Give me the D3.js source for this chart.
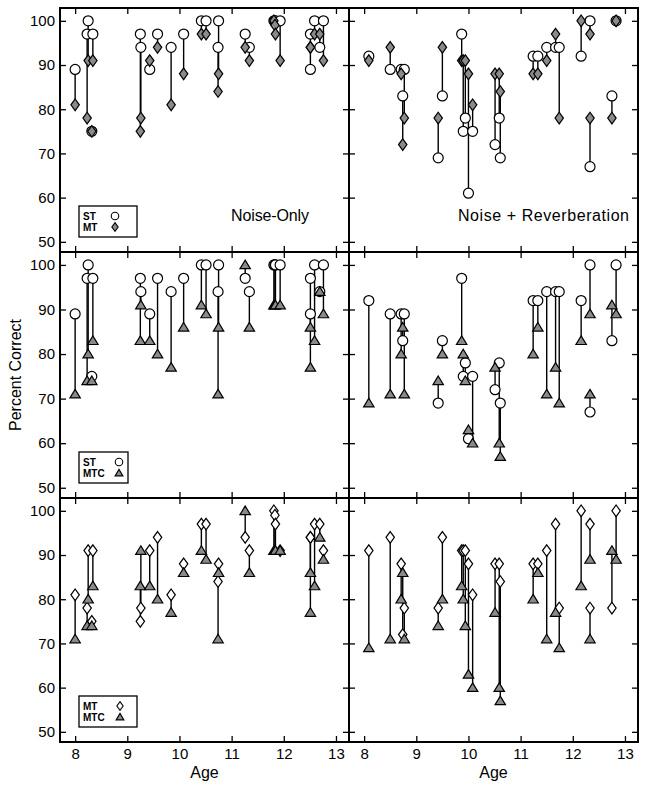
<!DOCTYPE html>
<html><head><meta charset="utf-8">
<script src="https://cdn.jsdelivr.net/npm/d3@7"></script>
<style>
body{margin:0;background:#fff}
svg{display:block}
text{font-family:"Liberation Sans",Arial,Helvetica,sans-serif;fill:#000}
</style>
</head><body><svg id="c" width="649" height="789"></svg>
<script>
const ageTicks = [8, 9, 10, 11, 12, 13];
const pctTicks = [50, 60, 70, 80, 90, 100];
const conditions = ["Noise-Only", "Noise + Reverberation"];

// Noise-Only subjects
const ageNO = [8.00, 8.23, 8.25, 8.32, 8.34, 9.25, 9.26, 9.43, 9.58, 9.84, 10.08, 10.42, 10.51, 10.74, 10.75, 11.26, 11.34, 11.81, 11.83, 11.84, 11.93, 12.51, 12.51, 12.59, 12.69, 12.76];
const stNO  = [89, 97, 100, 75, 97, 97, 94, 89, 97, 94, 97, 100, 100, 94, 100, 97, 94, 100, 100, 100, 100, 97, 89, 100, 94, 100];
const mtNO  = [81, 78, 91, 75, 91, 75, 78, 91, 94, 81, 88, 97, 97, 84, 88, 94, 91, 100, 99, 97, 91, 94, 94, 97, 97, 91];
const mtcNO = [71, 74, 80, 74, 83, 83, 91, 83, 80, 77, 86, 91, 89, 71, 86, 100, 86, 91, 91, 91, 91, 86, 77, 83, 94, 89];

// Noise + Reverberation subjects
const ageNR = [8.09, 8.50, 8.71, 8.74, 8.77, 9.42, 9.50, 9.87, 9.90, 9.94, 10.00, 10.08, 10.51, 10.59, 10.61, 11.24, 11.33, 11.50, 11.67, 11.74, 12.16, 12.33, 12.33, 12.75, 12.83];
const stNR  = [92, 89, 89, 83, 89, 69, 83, 97, 75, 78, 61, 75, 72, 78, 69, 92, 92, 94, 94, 94, 92, 100, 67, 83, 100];
const mtNR  = [91, 94, 88, 72, 78, 78, 94, 91, 91, 91, 88, 81, 88, 88, 84, 88, 88, 91, 97, 78, 100, 97, 78, 78, 100];
const mtcNR = [69, 71, 80, 86, 71, 74, 80, 83, 80, 74, 63, 60, 77, 60, 57, 80, 86, 71, 77, 69, 83, 89, 71, 91, 89];

const rowPairs = [["ST", "MT"], ["ST", "MTC"], ["MT", "MTC"]];

const dataSets = [
  {age: ageNO, ST: stNO, MT: mtNO, MTC: mtcNO},
  {age: ageNR, ST: stNR, MT: mtNR, MTC: mtcNR}
];

const svg = d3.select("#c");
const cols = [{x0: 60, x1: 349}, {x0: 349, x1: 638}];
const rows = [{y0: 8, y1: 252}, {y0: 252, y1: 498}, {y0: 498, y1: 742}];

const GRAY = "#8a8a8a";
function markerPath(kind, s) {
  const p = d3.path();
  if (kind === "ST") {
    p.arc(0, 0, 5 * s, 0, 2 * Math.PI);
  } else if (kind === "MT") {
    p.moveTo(0, -5.8 * s); p.lineTo(4.2 * s, 0); p.lineTo(0, 5.8 * s); p.lineTo(-4.2 * s, 0); p.closePath();
  } else {
    p.moveTo(0, -4.8 * s); p.lineTo(5.2 * s, 3.8 * s); p.lineTo(-5.2 * s, 3.8 * s); p.closePath();
  }
  return p.toString();
}
function markerFill(kind, row) {
  if (kind === "ST") return "#fff";
  if (kind === "MT") return row === 2 ? "#fff" : GRAY;
  return GRAY;
}

rows.forEach((r, ri) => {
  cols.forEach((c, ci) => {
    const x = d3.scaleLinear().domain([7.71, 13.25]).range([c.x0, c.x1]);
    const y = d3.scaleLinear().domain([47.7, 102.9]).range([r.y1, r.y0]);
    const g = svg.append("g");
    const ds = dataSets[ci];
    const [a, b] = rowPairs[ri];

    const fs = "15px";
    const bot = g.append("g").attr("transform", `translate(0,${r.y1})`)
      .call(d3.axisBottom(x).tickValues(ageTicks).tickSize(-6).tickPadding(6).tickFormat(ri === 2 ? d3.format("d") : ""));
    const top = g.append("g").attr("transform", `translate(0,${r.y0})`)
      .call(d3.axisTop(x).tickValues(ageTicks).tickSize(-6).tickFormat(""));
    const lef = g.append("g").attr("transform", `translate(${c.x0},0)`)
      .call(d3.axisLeft(y).tickValues(pctTicks).tickSize(-6).tickPadding(5).tickFormat(ci === 0 ? d3.format("d") : ""));
    const rig = g.append("g").attr("transform", `translate(${c.x1},0)`)
      .call(d3.axisRight(y).tickValues(pctTicks).tickSize(-6).tickFormat(""));
    [bot, top, lef, rig].forEach(ax => {
      ax.select(".domain").remove();
      ax.selectAll("line").attr("stroke", "#000").attr("stroke-width", 1.3);
      ax.selectAll("text").style("font-size", fs).attr("fill", "#000")
        .style("font-family", '"Liberation Sans",Arial,sans-serif');
    });

    g.append("g").selectAll("line").data(ds.age).join("line")
      .attr("x1", d => x(d)).attr("x2", d => x(d))
      .attr("y1", (d, i) => y(ds[a][i])).attr("y2", (d, i) => y(ds[b][i]))
      .attr("stroke", "#000").attr("stroke-width", 1.4);

    [a, b].forEach(kind => {
      g.append("g").selectAll("path").data(ds.age).join("path")
        .attr("transform", (d, i) => `translate(${x(d)},${y(ds[kind][i])})`)
        .attr("d", markerPath(kind, 1))
        .attr("fill", markerFill(kind, ri))
        .attr("stroke", "#000").attr("stroke-width", 1.2);
    });

    g.append("rect").attr("x", c.x0).attr("y", r.y0)
      .attr("width", c.x1 - c.x0).attr("height", r.y1 - r.y0)
      .attr("fill", "none").attr("stroke", "#000").attr("stroke-width", 2);
  });
});

const legends = [
  {row: 0, w: 58, items: ["ST", "MT"], sx: 36},
  {row: 1, w: 49, items: ["ST", "MTC"], sx: 40},
  {row: 2, w: 58, items: ["MT", "MTC"], sx: 41}
];
legends.forEach(L => {
  const r = rows[L.row];
  const bx = 79, by = r.y1 - 46, bh = 31;
  const lg = svg.append("g");
  lg.append("rect").attr("x", bx).attr("y", by).attr("width", L.w).attr("height", bh)
    .attr("fill", "#fff").attr("stroke", "#000").attr("stroke-width", 1.3);
  L.items.forEach((k, i) => {
    const cy = by + 10 + i * 11;
    lg.append("text").attr("x", bx + 4).attr("y", cy + 4)
      .style("font-size", "10px").style("font-weight", "bold").text(k);
    lg.append("path").attr("transform", `translate(${bx + L.sx},${cy})`)
      .attr("d", markerPath(k, 0.75)).attr("fill", markerFill(k, L.row))
      .attr("stroke", "#000").attr("stroke-width", 1.1);
  });
});

svg.append("text").attr("x", 231).attr("y", 221).style("font-size", "16px")
  .attr("textLength", 78).attr("lengthAdjust", "spacing").text(conditions[0]);
svg.append("text").attr("x", 458).attr("y", 221).style("font-size", "16px")
  .attr("textLength", 171).attr("lengthAdjust", "spacing").text(conditions[1]);

svg.append("text").attr("transform", "translate(21,375) rotate(-90)").attr("text-anchor", "middle")
  .style("font-size", "16px").text("Percent Correct");
cols.forEach(c => {
  svg.append("text").attr("x", (c.x0 + c.x1) / 2).attr("y", 778).attr("text-anchor", "middle")
    .style("font-size", "16px").text("Age");
});
</script>
</body></html>
